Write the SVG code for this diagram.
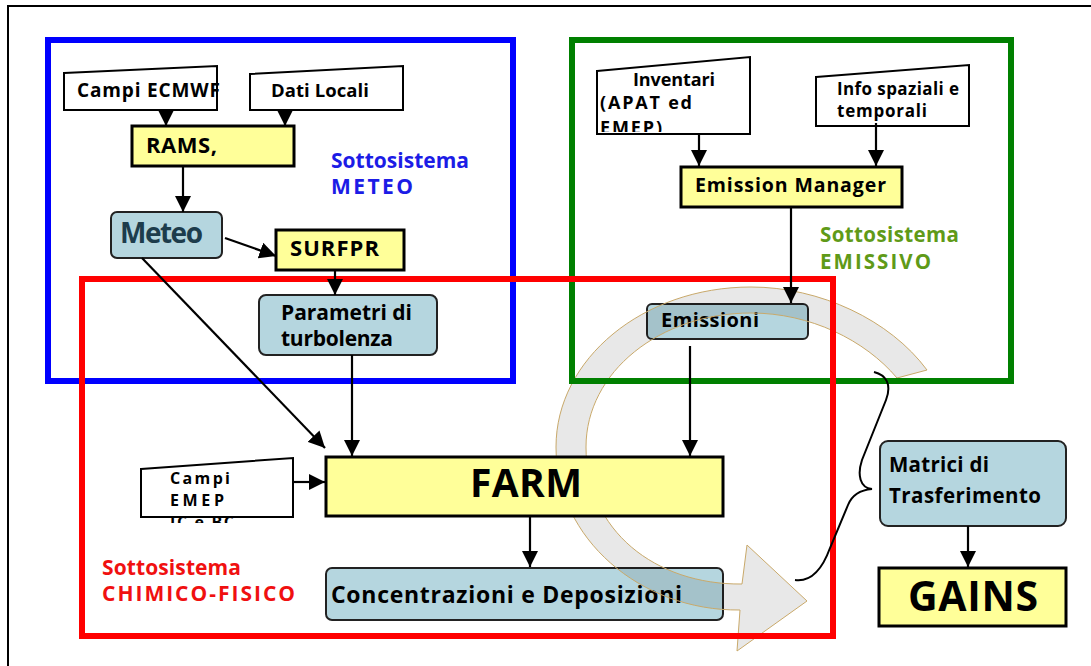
<svg xmlns="http://www.w3.org/2000/svg" width="1091" height="666" viewBox="0 0 1091 666">
<style>
.t{font-family:"Open Sans","Liberation Sans",sans-serif;font-weight:700;fill:#000}
.y{fill:#ffff99;stroke:#000;stroke-width:3}
.b{fill:#b5d6df;stroke:#222;stroke-width:2}
.d{fill:#fff;stroke:#000;stroke-width:2}
.c{stroke:#000;stroke-width:2.2;fill:none;marker-end:url(#ah)}
.f{fill:none;stroke-width:6}
</style>
<defs>
<marker id="ah" viewBox="0 0 10 10" refX="10" refY="5" markerWidth="7.5" markerHeight="7.5" markerUnits="strokeWidth" orient="auto">
<path d="M0,0 L10,5 L0,10 z" fill="#000"/>
</marker>
<clipPath id="clipEmep"><rect x="140" y="455" width="160" height="68"/></clipPath>
<clipPath id="clipInv"><rect x="596" y="55" width="160" height="77"/></clipPath>
</defs>
<rect x="0" y="0" width="1091" height="666" fill="#fff"/>
<path d="M8,666 L8,6 L1091,6" fill="none" stroke="#000" stroke-width="2"/>

<g id="emissioni">
<rect class="b" x="647" y="304" width="161" height="35" rx="5"/>
<text class="t" x="661" y="327" font-size="20" textLength="98">Emissioni</text>
</g>
<g id="concentrazioni">
<rect class="b" x="326" y="568" width="397" height="52" rx="6"/>
<text class="t" x="331" y="603" font-size="23" textLength="351">Concentrazioni e Deposizioni</text>
</g>

<g id="cycle-arrow">
<path d="M927,370 C890,320 820,287 751,287 C643,287 556,359 556,447 C556,538 640,611 740,610 L737,651 L807,601 L747,545 L742,584 C655,585 586,530 586,447 C586,372 660,313 751,313 C810,313 865,340 897,378 Z" fill="#000" fill-opacity="0.09" stroke="#c9a96a" stroke-width="1"/>
</g>

<g id="campi-ecmwf">
<path class="d" d="M64,73 L217,66 L217,110 L64,110 Z"/>
<text class="t" x="77" y="97" font-size="19" textLength="143">Campi ECMWF</text>
</g>
<g id="dati-locali">
<path class="d" d="M250,74 L403,66 L403,110 L250,110 Z"/>
<text class="t" x="271" y="97" font-size="18.5" textLength="98">Dati Locali</text>
</g>
<g id="rams">
<rect class="y" x="132" y="126" width="162" height="40"/>
<text class="t" x="146" y="153" font-size="22" textLength="71">RAMS,</text>
</g>
<g id="meteo">
<rect class="b" x="111" y="212" width="111" height="46" rx="6"/>
<text class="t" x="120" y="243" font-size="28" textLength="83" style="fill:#1d3c4c">Meteo</text>
</g>
<g id="surfpr">
<rect class="y" x="276" y="230" width="128" height="40"/>
<text class="t" x="290" y="256" font-size="22" textLength="89">SURFPR</text>
</g>
<g id="parametri">
<rect class="b" x="259" y="295" width="178" height="60" rx="7"/>
<text class="t" x="281" y="320" font-size="21" textLength="131">Parametri di</text>
<text class="t" x="281" y="346" font-size="21" textLength="112">turbolenza</text>
</g>
<g id="campi-emep">
<g clip-path="url(#clipEmep)">
<text class="t" x="170" y="484" font-size="16" textLength="60">Campi</text>
<text class="t" x="170" y="506" font-size="16" textLength="54">EMEP</text>
<text class="t" x="170" y="528" font-size="16" textLength="64">IC e BC</text>
</g>
<path class="d" d="M141,469 L293,458 L293,517 L141,517 Z" style="fill:none"/>
</g>
<g id="farm">
<rect class="y" x="326" y="457" width="397" height="59"/>
<text class="t" x="526" y="497" font-size="39" text-anchor="middle" textLength="112">FARM</text>
</g>
<g id="inventari">
<path class="d" d="M597,71 L750,57 L750,134 L597,134 Z"/>
<g clip-path="url(#clipInv)">
<text class="t" x="633" y="86" font-size="18" textLength="82">Inventari</text>
<text class="t" x="600" y="109" font-size="18" textLength="92">(APAT ed</text>
<text class="t" x="600" y="134" font-size="18" textLength="62">EMEP)</text>
</g>
</g>
<g id="info-spaziali">
<path class="d" d="M816,77 L969,65 L969,126 L816,126 Z"/>
<text class="t" x="837" y="95" font-size="17" textLength="122">Info spaziali e</text>
<text class="t" x="837" y="117" font-size="17" textLength="90">temporali</text>
</g>
<g id="emission-manager">
<rect class="y" x="681" y="167" width="221" height="40"/>
<text class="t" x="695" y="192" font-size="19.5" textLength="191">Emission Manager</text>
</g>
<g id="matrici">
<rect class="b" x="880" y="441" width="186" height="85" rx="8"/>
<text class="t" x="889" y="472" font-size="20.5" textLength="100">Matrici di</text>
<text class="t" x="889" y="503" font-size="20.5" textLength="152">Trasferimento</text>
</g>
<g id="gains">
<rect class="y" x="879" y="568" width="187" height="58"/>
<text class="t" x="908" y="611" font-size="41" textLength="130">GAINS</text>
</g>

<g id="subsystems">
<rect class="f" x="48" y="40" width="465" height="341" stroke="#0000ff"/>
<rect class="f" x="572" y="40" width="439" height="341" stroke="#008000"/>
<rect class="f" x="82" y="279" width="751" height="357" stroke="#ff0000"/>
<text class="t" x="331" y="168" font-size="21" textLength="138" style="fill:#1c1ce6">Sottosistema</text>
<text class="t" x="331" y="194" font-size="21" textLength="82" style="fill:#1c1ce6">METEO</text>
<text class="t" x="820" y="242" font-size="20.5" textLength="139" style="fill:#5f9a18">Sottosistema</text>
<text class="t" x="820" y="269" font-size="20.5" textLength="111" style="fill:#5f9a18">EMISSIVO</text>
<text class="t" x="102" y="575" font-size="21" textLength="139" style="fill:#f01010">Sottosistema</text>
<text class="t" x="102" y="601" font-size="21" textLength="193" style="fill:#f01010">CHIMICO-FISICO</text>
</g>

<g id="connectors">
<line class="c" x1="166" y1="110" x2="166" y2="126"/>
<line class="c" x1="285" y1="110" x2="285" y2="126"/>
<line class="c" x1="183" y1="166" x2="183" y2="212"/>
<line class="c" x1="225" y1="238" x2="276" y2="256"/>
<line class="c" x1="335" y1="270" x2="335" y2="295"/>
<line class="c" x1="142" y1="258" x2="325" y2="448"/>
<line class="c" x1="352" y1="355" x2="352" y2="456"/>
<line class="c" x1="293" y1="482" x2="325" y2="482"/>
<line class="c" x1="530" y1="517" x2="530" y2="567"/>
<line class="c" x1="699" y1="134" x2="699" y2="166"/>
<line class="c" x1="876" y1="123" x2="876" y2="166"/>
<line class="c" x1="791" y1="207" x2="791" y2="303"/>
<line class="c" x1="690" y1="346" x2="690" y2="456"/>
<line class="c" x1="968" y1="526" x2="968" y2="567"/>
<path d="M874,372 C886,375 892,384 886,400 L862,460 C857,475 860,488 872,489 C860,490 852,495 848,505 L830,548 C822,570 810,582 795,580" fill="none" stroke="#000" stroke-width="2"/>
</g>
</svg>
